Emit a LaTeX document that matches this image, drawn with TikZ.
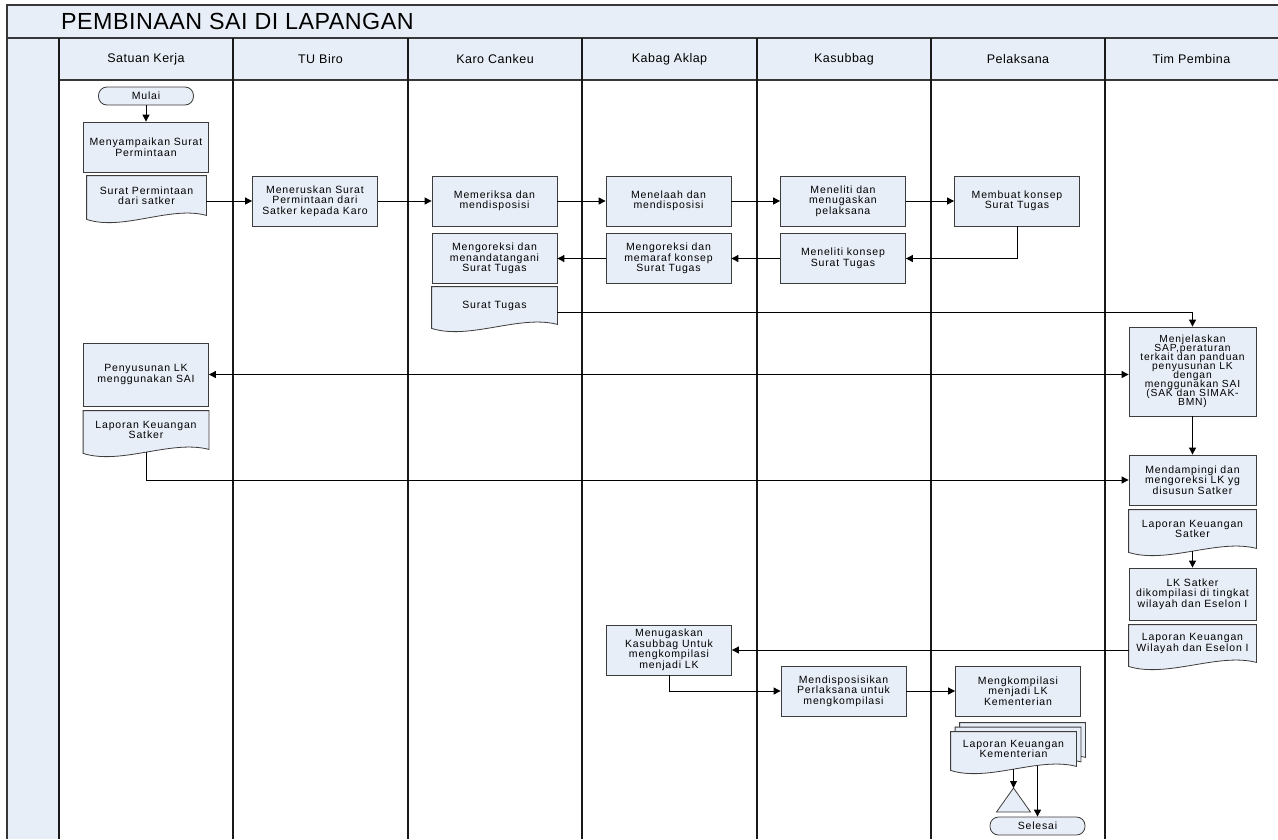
\documentclass[tikz,border=0pt]{standalone}
\usepackage{fontspec}
\setmainfont{Liberation Sans}
\newfontfamily\boxfont{Liberation Sans}[LetterSpace=8]
\newfontfamily\hdrfont{Liberation Sans}[LetterSpace=4]
\newfontfamily\titlefont{Liberation Sans}[LetterSpace=2]
\usetikzlibrary{arrows.meta,calc}
\pgfdeclarelayer{bgl}
\pgfdeclarelayer{docs}
\pgfsetlayers{bgl,docs,main}
\definecolor{boxfill}{RGB}{232,238,247}
\definecolor{boxline}{RGB}{60,60,60}
\definecolor{laneline}{RGB}{25,25,25}
\definecolor{framecol}{RGB}{55,55,55}
\tikzset{
  boxnode/.style={draw=boxline, fill=boxfill, line width=0.8pt, minimum width=125pt,
    minimum height=50pt, align=center, inner sep=1pt,
    font={\boxfont\fontsize{10.5pt}{10.5pt}\selectfont}},
  docnode/.style={boxnode, draw=none, fill=none},
  termnode/.style={boxnode, rounded corners=8.5pt, minimum height=18pt, minimum width=95pt},
  hdrnode/.style={font={\hdrfont\fontsize{12.5pt}{14pt}\selectfont}, inner sep=0pt},
  conn/.style={line width=0.9pt, -{Triangle[length=7pt,width=7pt]}},
  dconn/.style={line width=0.9pt, {Triangle[length=7pt,width=7pt]}-{Triangle[length=7pt,width=7pt]}},
  framestyle/.style={draw=framecol, line width=1.4pt},
  lanestyle/.style={draw=laneline, line width=1.2pt},
  docout/.style={draw=boxline, fill=boxfill, line width=0.8pt},
}
% document outline with wavy bottom, offset (#2,#3)
\newcommand\docpath[3]{%
  \path[docout] ($(#1.north west)+(#2,#3)$) -- ($(#1.north east)+(#2,#3)$) -- ($(#1.south east)+(#2,#3)$)
    .. controls ($(#1.south east)!0.3!(#1.south west)+(#2,#3)+(0,-10)$)
       and ($(#1.south east)!0.7!(#1.south west)+(#2,#3)+(0,16)$)
    .. ($(#1.south west)+(#2,#3)+(0,4)$) -- cycle;}
\begin{document}
\begin{tikzpicture}[x=1pt,y=-1pt]
\useasboundingbox (0,0) rectangle (1278,839);
\begin{pgfonlayer}{bgl}
  \fill[white] (0,0) rectangle (1278,839);
  \fill[boxfill] (7,5) rectangle (1278,38);
  \fill[boxfill] (7,38) rectangle (59,839);
  \fill[boxfill] (59,38) rectangle (1278,80);
\end{pgfonlayer}
% frame and lanes
\draw[framestyle] (1278,5) -- (7,5) -- (7,839);
\draw[framestyle] (7,38) -- (1278,38);
\draw[framestyle] (59,80) -- (1278,80);
\foreach \x in {59,233,408,582,757,931,1105} \draw[lanestyle] (\x,38) -- (\x,839);

% title and headers
\node[anchor=west, inner sep=0pt, font={\titlefont\fontsize{23.3pt}{27pt}\selectfont}] (title) at (61,21) {PEMBINAAN SAI DI LAPANGAN};
\node[hdrnode] (h1) at (146,59) {Satuan Kerja};
\node[hdrnode] (h2) at (320.5,59) {TU Biro};
\node[hdrnode] (h3) at (495,59) {Karo Cankeu};
\node[hdrnode] (h4) at (669.5,59) {Kabag Aklap};
\node[hdrnode] (h5) at (844,59) {Kasubbag};
\node[hdrnode] (h6) at (1018,59) {Pelaksana};
\node[hdrnode] (h7) at (1191.5,59) {Tim Pembina};

% nodes
\node[termnode] (mulai) at (146,96) {Mulai};
\node[boxnode] (nyampai) at (146,147) {Menyampaikan Surat\\Permintaan};
\node[docnode, minimum width=119pt, minimum height=39pt] (sp) at (146.5,195.5) {Surat Permintaan\\dari satker};
\node[boxnode] (terus) at (315,201) {Meneruskan Surat\\Permintaan dari\\Satker kepada Karo};
\node[boxnode] (periksa) at (494.5,201) {Memeriksa dan\\mendisposisi};
\node[boxnode] (telaah) at (668.5,201) {Menelaah dan\\mendisposisi};
\node[boxnode] (teliti) at (843,201) {Meneliti dan\\menugaskan\\pelaksana};
\node[boxnode] (konsep) at (1017,201) {Membuat konsep\\Surat Tugas};
\node[boxnode] (telitik) at (843,258.5) {Meneliti konsep\\Surat Tugas};
\node[boxnode] (maraf) at (668.5,258.5) {Mengoreksi dan\\memaraf konsep\\Surat Tugas};
\node[boxnode] (tanda) at (494.5,258.5) {Mengoreksi dan\\menandatangani\\Surat Tugas};
\node[docnode, minimum height=37pt] (st) at (494.5,305.5) {Surat Tugas};
\node[boxnode, minimum width=127pt, minimum height=89pt, font={\boxfont\fontsize{10.3pt}{10pt}\selectfont}] (jelas) at (1192.5,371.5) {Menjelaskan\\[-1pt]SAP,peraturan\\[-1pt]terkait dan panduan\\[-1pt]penyusunan LK\\[-1pt]dengan\\[-1pt]menggunakan SAI\\[-1pt](SAK dan SIMAK-\\[-1pt]BMN)};
\node[boxnode, minimum height=63pt] (susun) at (146,374.5) {Penyusunan LK\\menggunakan SAI};
\node[docnode, minimum height=38pt] (lks1) at (146,430) {Laporan Keuangan\\Satker};
\node[boxnode, minimum width=127pt] (damping) at (1192.5,480) {Mendampingi dan\\mengoreksi LK yg\\disusun Satker};
\node[docnode, minimum width=127pt, minimum height=38pt] (lks2) at (1192.5,529) {Laporan Keuangan\\Satker};
\node[boxnode, minimum width=127pt, minimum height=52pt] (kompil) at (1192.5,594) {LK Satker\\dikompilasi di tingkat\\wilayah dan Eselon I};
\node[docnode, minimum width=127pt, minimum height=37pt] (lkw) at (1192.5,643.5) {Laporan Keuangan\\Wilayah dan Eselon I};
\node[boxnode] (tugaskan) at (669,650) {Menugaskan\\Kasubbag Untuk\\mengkompilasi\\menjadi LK};
\node[boxnode] (dispo) at (843.5,691) {Mendisposisikan\\Perlaksana untuk\\mengkompilasi};
\node[boxnode] (kompilasi) at (1018,691) {Mengkompilasi\\menjadi LK\\Kementerian};
\node[docnode, minimum height=34pt] (lkk) at (1013.5,749) {Laporan Keuangan\\Kementerian};
\node[termnode] (selesai) at (1037.5,826) {Selesai};
\coordinate (tri) at (1013.5,788);
\path[docout] (tri) -- (996.5,812) -- (1030.5,812) -- cycle;

% document outlines
\begin{pgfonlayer}{docs}
  \docpath{sp}{0}{0}
  \docpath{st}{0}{0}
  \docpath{lks1}{0}{0}
  \docpath{lks2}{0}{0}
  \docpath{lkw}{0}{0}
  \docpath{lkk}{9}{-9}
  \docpath{lkk}{4.5}{-4.5}
  \docpath{lkk}{0}{0}
\end{pgfonlayer}

% connectors
\draw[conn] (mulai) -- (nyampai);
\draw[conn] (sp.east |- terus.west) -- (terus.west);
\draw[conn] (terus) -- (periksa);
\draw[conn] (periksa) -- (telaah);
\draw[conn] (telaah) -- (teliti);
\draw[conn] (teliti) -- (konsep);
\draw[conn] (konsep.south) |- (telitik.east);
\draw[conn] (telitik) -- (maraf);
\draw[conn] (maraf) -- (tanda);
\draw[conn] ($(st.east)+(0,7)$) -| (jelas.north);
\draw[dconn] (susun.east) -- (susun.east -| jelas.west);
\draw[conn] ($(lks1.south)+(0,3)$) |- (damping.west);
\draw[conn] (jelas) -- (damping);
\draw[conn] ($(lks2.south)+(0,3)$) -- (kompil.north);
\draw[conn] (tugaskan.east -| lkw.west) -- (tugaskan.east);
\draw[conn] (tugaskan.south) |- (dispo.west);
\draw[conn] (dispo) -- (kompilasi);
\draw[conn] ($(lkk.south)+(0,3)$) -- (tri);
\draw[conn] (selesai.north |- lkk.south) -- (selesai.north);
\end{tikzpicture}
\end{document}
